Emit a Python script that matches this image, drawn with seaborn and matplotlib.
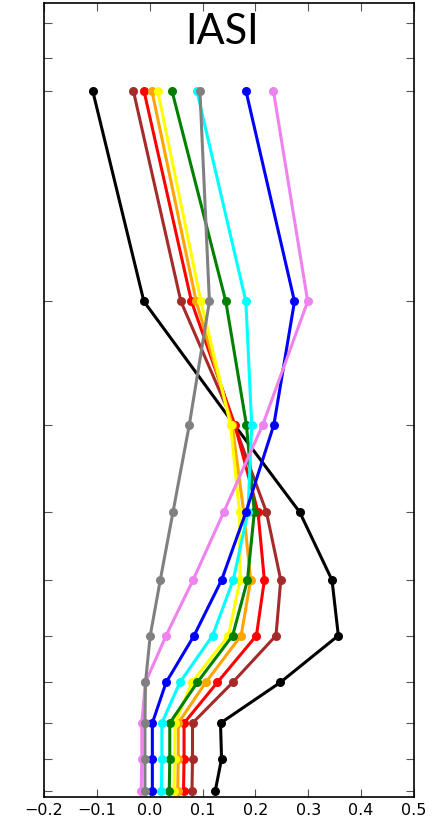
import pandas as pd
import numpy as np
import matplotlib
matplotlib.use('Agg')
import matplotlib.pyplot as plt
import seaborn as sns

# pressure levels (hPa)
levels = [100, 200, 300, 400, 500, 600, 700, 800, 900, 1000]

# one profile per colour
series_names = ['black', 'brown', 'red', 'orange', 'yellow',
                'green', 'cyan', 'blue', 'violet', 'gray']
black = [-0.108, -0.011, 0.160, 0.284, 0.345, 0.357, 0.247, 0.134, 0.136, 0.124]
brown = [-0.031, 0.059, 0.160, 0.221, 0.248, 0.239, 0.157, 0.081, 0.081, 0.080]
red = [-0.011, 0.079, 0.161, 0.205, 0.217, 0.202, 0.128, 0.065, 0.065, 0.064]
orange = [0.004, 0.088, 0.156, 0.178, 0.191, 0.173, 0.106, 0.054, 0.054, 0.053]
yellow = [0.015, 0.097, 0.153, 0.170, 0.171, 0.149, 0.080, 0.048, 0.047, 0.046]
green = [0.042, 0.144, 0.183, 0.198, 0.185, 0.157, 0.090, 0.038, 0.038, 0.037]
cyan = [0.089, 0.182, 0.193, 0.186, 0.158, 0.119, 0.057, 0.023, 0.023, 0.022]
blue = [0.182, 0.274, 0.235, 0.182, 0.136, 0.084, 0.031, 0.005, 0.005, 0.005]
violet = [0.234, 0.299, 0.214, 0.140, 0.082, 0.031, -0.008, -0.015, -0.015, -0.016]
gray = [0.095, 0.113, 0.075, 0.044, 0.020, 0.001, -0.008, -0.009, -0.009, -0.009]

y_ticks = [80, 90, 100, 200, 300, 400, 500, 600, 700, 800, 900, 1000]
x_ticks = [-0.2, -0.1, 0.0, 0.1, 0.2, 0.3, 0.4, 0.5]

all_values = [black, brown, red, orange, yellow, green, cyan, blue, violet, gray]
rows = []
for name, vals in zip(series_names, all_values):
    for p, v in zip(levels, vals):
        rows.append({'series': name, 'pressure': p, 'value': v})
df = pd.DataFrame(rows)

sns.set_style('ticks')
plt.rcParams['font.family'] = ['DejaVu Sans']
plt.rcParams['xtick.direction'] = 'in'
plt.rcParams['ytick.direction'] = 'in'

fig = plt.figure(figsize=(4.38, 8.16), dpi=100)
ax = fig.add_axes([0.1005, 0.0233, 0.8445, 0.973])

sns.lineplot(data=df, x='value', y='pressure', hue='series',
             palette=dict(zip(series_names, series_names)),
             hue_order=series_names, sort=False, estimator=None,
             marker='o', markersize=6.5, markeredgewidth=0,
             linewidth=2.2, legend=False, ax=ax)

ax.set_yscale('log')
ax.set_ylim(1020, 75)
ax.set_yticks(y_ticks)
ax.yaxis.set_minor_locator(matplotlib.ticker.NullLocator())
ax.set_yticklabels([])
ax.set_xlim(-0.2, 0.5)
ax.set_xticks(x_ticks)
ax.set_xticklabels([f'{t:.1f}'.replace('-', '\u2212') for t in x_ticks],
                   fontsize=11.5, color='black')
ax.set_xlabel('')
ax.set_ylabel('')
ax.tick_params(which='both', top=True, right=True, length=6, width=0.8,
               color='#555555', pad=4)
for s in ax.spines.values():
    s.set_linewidth(1.2)
    s.set_color('black')

ax.text(0.481, 0.964, 'IASI', transform=ax.transAxes, ha='center', va='center',
        fontsize=30, color='black', family=['Lato', 'DejaVu Sans'])

fig.savefig('out.png', dpi=100)
